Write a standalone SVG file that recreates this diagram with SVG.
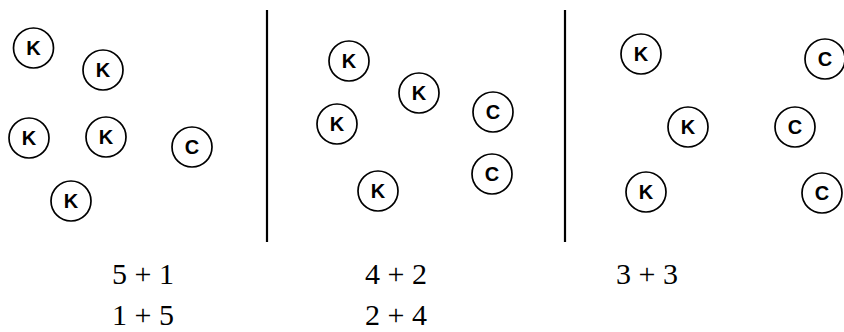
<svg xmlns="http://www.w3.org/2000/svg" width="844" height="332" viewBox="0 0 844 332">
<style>
.n circle{fill:#fff;stroke:#000;stroke-width:1.7}
.n text{font-family:"Liberation Sans",Arial,sans-serif;font-weight:bold;font-size:20px;text-anchor:middle;fill:#000}
.lbl{font-family:"Liberation Serif","Times New Roman",serif;font-size:30px;text-anchor:middle;fill:#000}
.div{stroke:#000;stroke-width:2.2}
</style>
<rect width="844" height="332" fill="#fff"/>
<g id="dividers">
<line class="div" x1="267" y1="10" x2="267" y2="242"/>
<line class="div" x1="565" y1="10" x2="565" y2="242"/>
</g>
<g id="connectors"></g>
<g id="p1k1" class="n"><circle cx="33.5" cy="48" r="20"/><text x="33.5" y="55">K</text></g>
<g id="p1k2" class="n"><circle cx="103" cy="70" r="20"/><text x="103" y="77">K</text></g>
<g id="p1k3" class="n"><circle cx="29" cy="138" r="20"/><text x="29" y="145">K</text></g>
<g id="p1k4" class="n"><circle cx="106" cy="137" r="20"/><text x="106" y="144">K</text></g>
<g id="p1c1" class="n"><circle cx="192" cy="147" r="20"/><text x="192" y="154">C</text></g>
<g id="p1k5" class="n"><circle cx="71" cy="201" r="20"/><text x="71" y="208">K</text></g>
<g id="p2k1" class="n"><circle cx="349" cy="61" r="20"/><text x="349" y="68">K</text></g>
<g id="p2k2" class="n"><circle cx="419" cy="93" r="20"/><text x="419" y="100">K</text></g>
<g id="p2c1" class="n"><circle cx="493" cy="112" r="20"/><text x="493" y="119">C</text></g>
<g id="p2k3" class="n"><circle cx="337" cy="124" r="20"/><text x="337" y="131">K</text></g>
<g id="p2c2" class="n"><circle cx="492" cy="174" r="20"/><text x="492" y="181">C</text></g>
<g id="p2k4" class="n"><circle cx="378" cy="191" r="20"/><text x="378" y="198">K</text></g>
<g id="p3k1" class="n"><circle cx="641" cy="54" r="20"/><text x="641" y="61">K</text></g>
<g id="p3c1" class="n"><circle cx="825" cy="59" r="20"/><text x="825" y="66">C</text></g>
<g id="p3k2" class="n"><circle cx="688" cy="127" r="20"/><text x="688" y="134">K</text></g>
<g id="p3c2" class="n"><circle cx="795" cy="127" r="20"/><text x="795" y="134">C</text></g>
<g id="p3k3" class="n"><circle cx="646" cy="192" r="20"/><text x="646" y="199">K</text></g>
<g id="p3c3" class="n"><circle cx="822" cy="193" r="20"/><text x="822" y="200">C</text></g>
<g id="labels">
<text class="lbl" x="143" y="284">5 + 1</text>
<text class="lbl" x="143" y="325">1 + 5</text>
<text class="lbl" x="396" y="284">4 + 2</text>
<text class="lbl" x="396" y="325">2 + 4</text>
<text class="lbl" x="647" y="284">3 + 3</text>
</g>
</svg>
